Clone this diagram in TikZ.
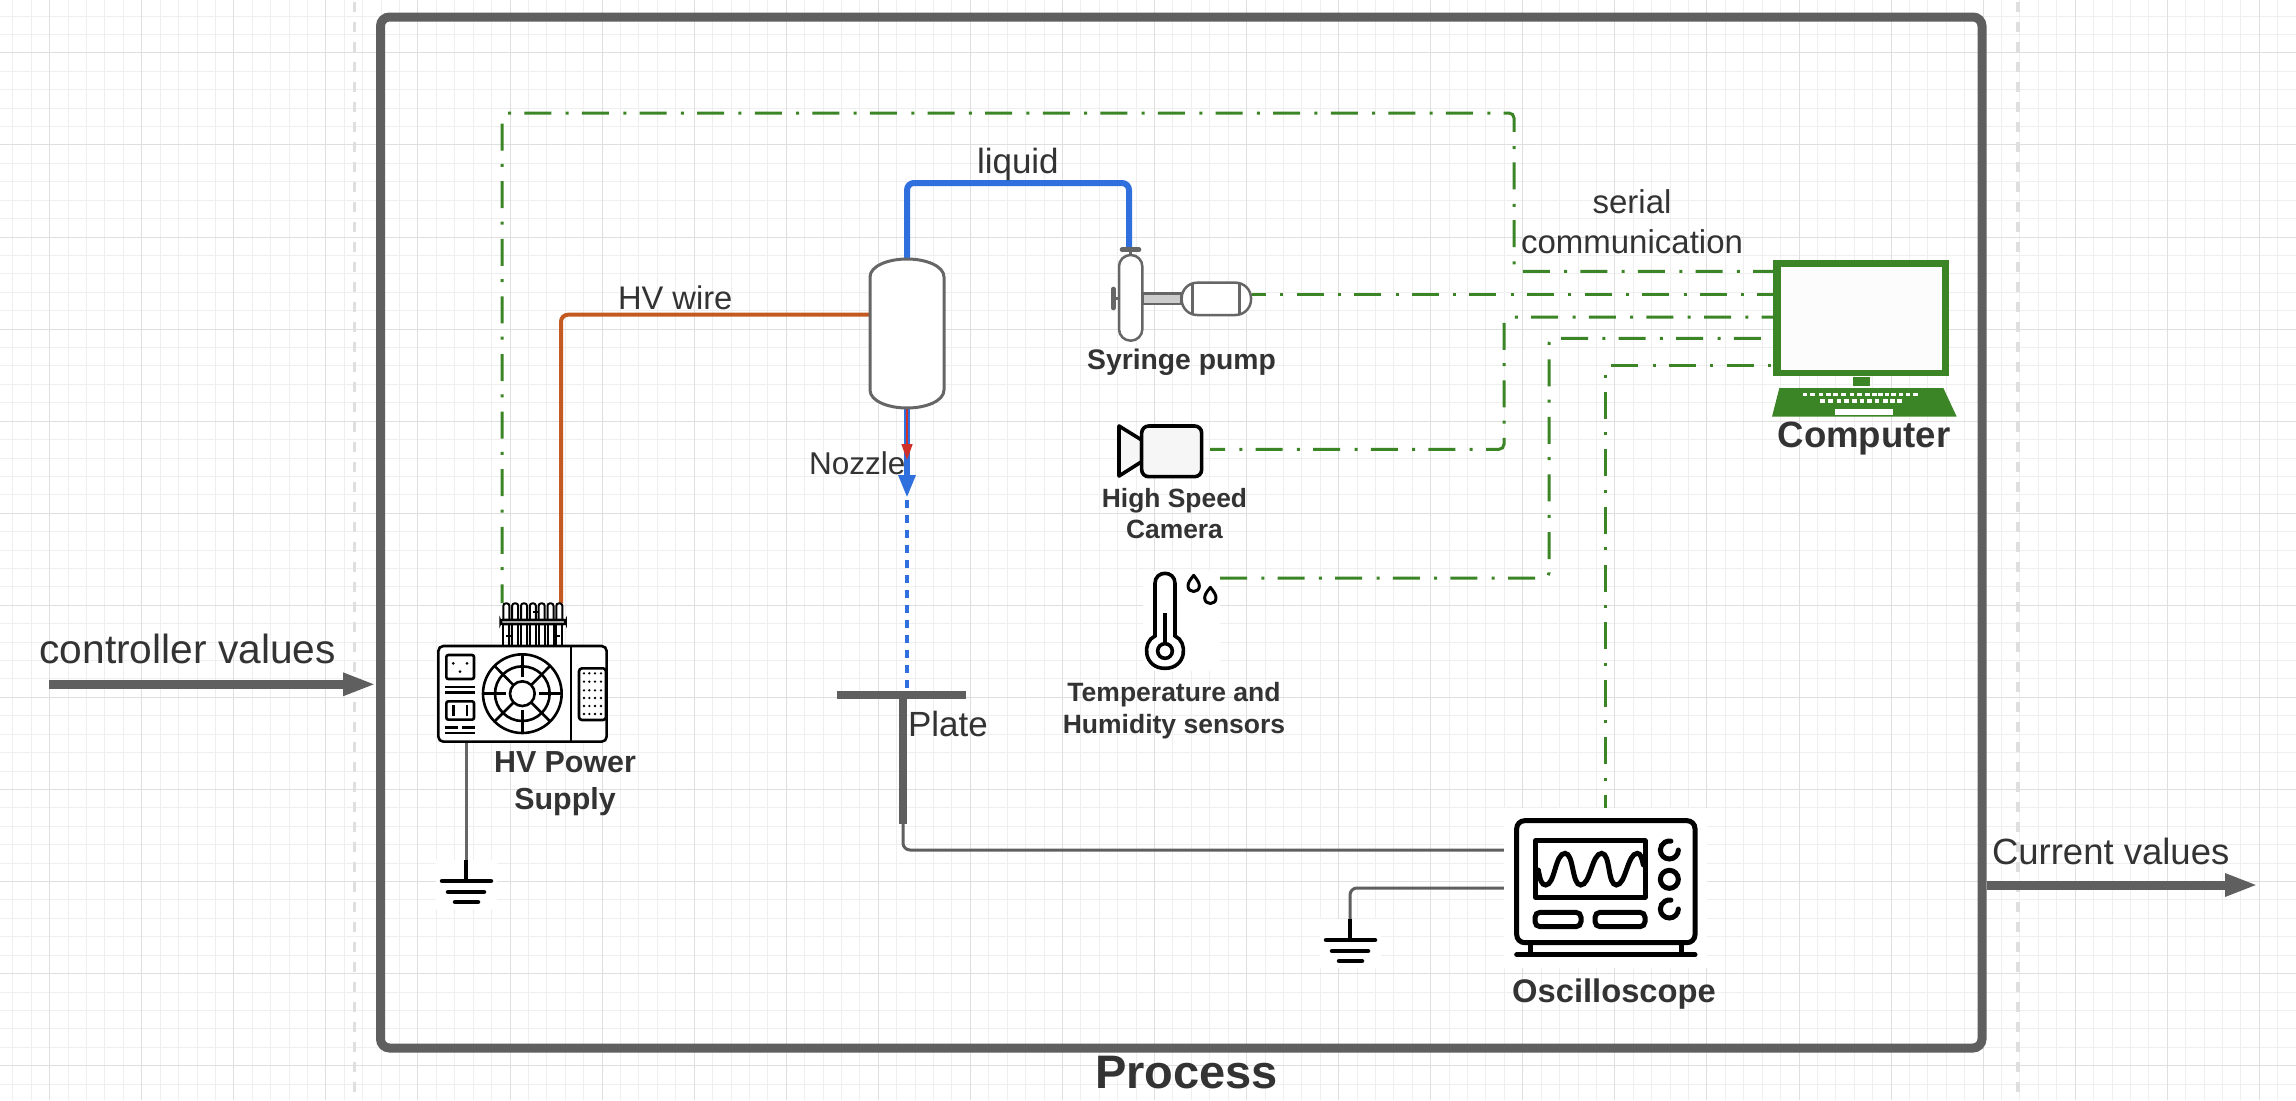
\documentclass[tikz,border=0pt]{standalone}
\usepackage{fontspec}
\setmainfont{Liberation Sans}
\usetikzlibrary{arrows.meta}
\definecolor{gridmaj}{HTML}{DFDFDF}
\definecolor{gridmin}{HTML}{EFEFEF}
\definecolor{framegrey}{HTML}{5F5F5F}
\definecolor{outl}{HTML}{666666}
\definecolor{ctrlgreen}{HTML}{3C8527}
\definecolor{liqblue}{HTML}{2F6FDE}
\definecolor{hvorange}{HTML}{C25A21}
\definecolor{arrred}{HTML}{D0302A}
\definecolor{txtc}{HTML}{333333}
\definecolor{iconbg}{HTML}{F6F6F6}
\tikzset{
  iconbox/.style={rectangle,inner sep=0pt,outer sep=0pt,draw=none},
  ctrlline/.style={draw=ctrlgreen,line width=3pt,rounded corners=5pt,dash pattern=on 27pt off 14.3pt on 3pt off 13.3pt},
  wireline/.style={draw=framegrey,line width=3pt,rounded corners=7pt},
  fatarrow/.style={draw=framegrey,line width=9pt,-{Triangle[length=33pt,width=21pt,fill=framegrey]}},
  lab/.style={inner sep=0pt,outer sep=0pt,anchor=base,text=txtc,align=center},
  labw/.style={lab,anchor=base west},
  icn/.style={draw=black,line width=2.6pt},
  combl/.style={draw=black,line width=2pt},
  osc/.style={draw=black,line width=5pt},
}
\newcommand{\gndicon}[2]{%
  \begin{scope}[shift={(#1,#2)}]
    \fill[white] (-30,0) rectangle (31,49);
    \draw[black,line width=4.8pt] (0,0) -- (0,21);
    \draw[black,line width=4.5pt,line cap=round] (-24,21) -- (25,21);
    \draw[black,line width=4.5pt,line cap=round] (-18,32) -- (18,32);
    \draw[black,line width=4.5pt,line cap=round] (-11,42) -- (12,42);
  \end{scope}}
\begin{document}
\begin{tikzpicture}[x=1pt,y=-1pt]
\useasboundingbox (0,0) rectangle (2296,1100);
\fill[white] (0,0) rectangle (2296,1100);
% grid
\foreach \k in {-2,...,122}{
  \pgfmathsetmacro{\gx}{floor(49.7+18.414*\k)+0.5}
  \draw[gridmin,line width=1pt] (\gx,0) -- (\gx,1100);
}
\foreach \k in {-2,...,56}{
  \pgfmathsetmacro{\gy}{floor(52.9+18.414*\k)+0.5}
  \draw[gridmin,line width=1pt] (0,\gy) -- (2296,\gy);
}
\foreach \k in {0,...,24}{
  \pgfmathsetmacro{\gx}{floor(49.7+18.414*5*\k)+0.5}
  \draw[gridmaj,line width=1pt] (\gx,0) -- (\gx,1100);
}
\foreach \k in {0,...,11}{
  \pgfmathsetmacro{\gy}{floor(52.9+18.414*5*\k)+0.5}
  \draw[gridmaj,line width=1pt] (0,\gy) -- (2296,\gy);
}
% swimlane dashes
\draw[gridmaj,line width=3.5pt,dash pattern=on 10pt off 10pt] (354.5,2) -- (354.5,1100);
\draw[gridmaj,line width=3.5pt,dash pattern=on 10pt off 10pt] (2018,2) -- (2018,1100);

% anchors (invisible extents of the icons)
\node[iconbox,minimum width=1601.5pt,minimum height=1031pt,draw=framegrey,line width=9pt,rounded corners=9pt,outer sep=4.5pt] (process) at (1181.25,532.5) {};
\node[iconbox,minimum width=169pt,minimum height=139pt] (hv) at (522.5,672.5) {};
\node[iconbox,minimum width=74pt,minimum height=149pt] (nozzle) at (907,333.5) {};
\node[iconbox,minimum width=141pt,minimum height=100pt] (pump) at (1181.5,290) {};
\node[iconbox,minimum width=87pt,minimum height=55pt] (camera) at (1166.5,449.3) {};
\node[iconbox,minimum width=77pt,minimum height=100pt] (sensor) at (1181.5,578) {};
\node[iconbox,minimum width=186pt,minimum height=157pt] (computer) at (1866,340) {};
\node[iconbox,minimum width=203pt,minimum height=160pt] (scope) at (1605.5,888) {};
\node[iconbox,minimum width=129pt,minimum height=8pt,fill=framegrey] (plate) at (901.5,695) {};

\coordinate (cvin) at (49,684.3);
\coordinate (cuout) at (2258,885);
\coordinate (ca1) at (502,113);
\coordinate (ca2) at (1514,113);
\coordinate (ca3) at (1514,271.3);
\coordinate (cb) at (1239,294.3);
\coordinate (cc1) at (1504,449.3);
\coordinate (cc2) at (1504,317);
\coordinate (cd1) at (1549,578);
\coordinate (cd2) at (1549,338.3);
\coordinate (ce1) at (1605,365.3);
\coordinate (hvw) at (561,314.7);
\coordinate (liq1) at (907,183);
\coordinate (liq2) at (1129,183);
\coordinate (liq3) at (1129,248);
\coordinate (redtip) at (907,460);
\coordinate (bluetip) at (907,498);
\coordinate (platefoot) at (903,824);
\coordinate (plateturn) at (903,850);
\coordinate (g1) at (466,860);
\coordinate (g2) at (1350,919);
\coordinate (g2turn) at (1350,888);

% process arrows
\draw[fatarrow] (cvin) -- (process.west |- cvin);
\draw[fatarrow] (process.east |- cuout) -- (cuout);

% control lines
\draw[ctrlline,dash phase=8.4pt] (hv.north -| ca1) -- (ca1) -- (ca2) -- (ca3) -- (computer.west |- ca3);
\draw[ctrlline,dash phase=13pt] (pump.east |- cb) -- (computer.west |- cb);
\draw[ctrlline,dash phase=12pt] (camera.east) -- (cc1) -- (cc2) -- (computer.west |- cc2);
\draw[ctrlline] (sensor.east |- cd1) -- (cd1) -- (cd2) -- (computer.west |- cd2);
\draw[ctrlline,dash phase=14pt] (scope.north -| ce1) -- (ce1) -- (computer.west |- ce1);

% process lines
\draw[hvorange,line width=4pt,rounded corners=7pt] (nozzle.west |- hvw) -- (hvw) -- (hv.north -| hvw);
\draw[liqblue,line width=6pt,rounded corners=7pt] (nozzle.north) -- (liq1) -- (liq2) -- (liq3);
\draw[liqblue,line width=6pt,-{Triangle[length=23pt,width=16pt]}] (nozzle.south) -- (bluetip);
\draw[arrred,line width=1.6pt,-{Triangle[length=16pt,width=11pt]}] (nozzle.south) -- (redtip);
\draw[liqblue,line width=4pt,dash pattern=on 8pt off 7pt] (bluetip) ++(0,2) -- (plate.north -| bluetip);
\draw[framegrey,line width=8pt] (plate.south -| platefoot) -- (platefoot);
\draw[wireline] (platefoot) -- (plateturn) -- (scope.west |- plateturn);
\draw[wireline] (scope.west |- g2turn) -- (g2turn) -- (g2);
\draw[draw=outl,line width=3pt] (hv.south -| g1) -- (g1);

% nozzle
\draw[outl,line width=3pt,fill=white] (870,277) .. controls (870,266) and (888,259) .. (907,259) .. controls (926,259) and (944,266) .. (944,277) -- (944,390) .. controls (944,401) and (926,408) .. (907,408) .. controls (888,408) and (870,401) .. (870,390) -- cycle;

% grounds
\gndicon{466}{860}
\gndicon{1350}{919}

% HV power supply
\begin{scope}[shift={(400,560)},x=0.33333pt,y=-0.33333pt]
  \draw[icn,rounded corners=5pt,fill=white] (115,258) rectangle (620,545);
  \draw[icn] (513,258) -- (513,545);
  \draw[icn,rounded corners=3pt] (537,325) rectangle (618,480);
  \foreach \dx in {552,568,585,603} \foreach \dy in {340,365,391,414,438,462}
    \fill[black] (\dx,\dy) circle[radius=3.8];
  \draw[icn,rounded corners=2pt] (139,285) rectangle (222,357);
  \fill[black] (160,310) circle[radius=4.5] (201,310) circle[radius=4.5] (180,335) circle[radius=4.5];
  \draw[icn] (135,381) -- (225,381) (135,397) -- (225,397);
  \draw[icn,rounded corners=2pt] (139,424) rectangle (222,479);
  \draw[icn] (160,435) -- (160,468) (201,435) -- (201,468);
  \draw[icn] (135,503) -- (175,503) (187,503) -- (225,503) (135,519) -- (225,519);
  \draw[icn] (367,401) circle[radius=118] (367,401) circle[radius=82] (367,401) circle[radius=37];
  \draw[icn] (367,283) -- (367,350) (367,450) -- (367,517) (249,401) -- (318,401) (416,401) -- (487,401);
  \draw[icn] (284,318) -- (340,375) (450,318) -- (394,375) (284,484) -- (340,428) (450,484) -- (394,428);
  % connector comb
  \foreach \ax in {0,...,6}{
    \pgfmathsetmacro{\xa}{310+26.5*\ax}
    \draw[combl,rounded corners=2.5pt,fill=white] (\xa,178) -- (\xa,130) -- ({\xa+18},130) -- ({\xa+18},178);
    \draw[combl] (\xa,195) -- (\xa,258) ({\xa+18},195) -- ({\xa+18},258);
  }
  \draw[combl] (398,157) -- (416,157) (318,228) -- (332,228) (463,228) -- (480,228);
  \draw[icn,rounded corners=2pt,fill=white] (302,180) rectangle (497,192);
\end{scope}

% syringe pump
\begin{scope}[shift={(1050,220)},x=0.33333pt,y=-0.33333pt]
  \draw[outl,line width=2.5pt,fill=white,rounded corners=11.5pt] (207,105) rectangle (277,362);
  \draw[outl,line width=4.6pt,line cap=round] (216,89) -- (267,89);
  \draw[outl,line width=2.5pt] (241,89) -- (241,105);
  \draw[outl,line width=4.6pt,line cap=round] (190,207) -- (190,264);
  \draw[outl,line width=2.5pt] (190,235) -- (207,235);
  \draw[outl,line width=2.5pt,fill=black!20] (277,220) rectangle (395,252);
  \draw[outl,line width=2.5pt,fill=white,rounded corners=15.5pt] (395,188) rectangle (603,285);
  \draw[outl,line width=2.5pt] (428,188) -- (428,285) (568,188) -- (568,285);
\end{scope}

% camera
\begin{scope}[shift={(1050,220)},x=0.33333pt,y=-0.33333pt]
  \draw[black,line width=3.6pt,fill=iconbg,line join=round] (207,618) -- (275,660) -- (275,725) -- (207,768) -- cycle;
  \draw[black,line width=3.6pt,fill=iconbg,rounded corners=7pt] (275,618) rectangle (455,770);
\end{scope}

% thermometer
\begin{scope}[shift={(1040,400)},x=0.33333pt,y=-0.33333pt]
  \fill[white] (310,512) rectangle (540,812);
  \draw[black,line width=3.6pt] (345,708) -- (345,550) .. controls (345,510) and (405,510) .. (405,550) -- (405,708) .. controls (445,725) and (440,805) .. (375,805) .. controls (310,805) and (305,725) .. (345,708) -- cycle;
  \draw[black,line width=3.6pt] (375,753) circle[radius=22];
  \draw[black,line width=3.6pt] (375,640) -- (375,730);
  \draw[black,line width=3pt,line join=round] (461,526) .. controls (450,540) and (444,548) .. (444,558) .. controls (444,580) and (478,580) .. (478,558) .. controls (478,548) and (472,540) .. (461,526) -- cycle;
  \draw[black,line width=3pt,line join=round] (511,562) .. controls (500,576) and (494,584) .. (494,594) .. controls (494,616) and (528,616) .. (528,594) .. controls (528,584) and (522,576) .. (511,562) -- cycle;
\end{scope}

% computer
\begin{scope}[shift={(1740,240)},x=0.33333pt,y=-0.33333pt]
  \fill[ctrlgreen] (100,60) rectangle (627,407);
  \fill[white!98!ctrlgreen] (122,80) rectangle (607,390);
  \fill[ctrlgreen] (340,411) rectangle (391,438);
  \fill[ctrlgreen] (118,444) -- (610,444) -- (650,530) -- (96,530) -- cycle;
  \foreach \kx/\kw in {189/12,210/15,236/13,258/14,280/14,304/14,329/12,352/13,376/14,396/14,414/15,434/14,453/15,477/13,497/13,520/14}
    \fill[white] (\kx,458) rectangle ({\kx+\kw},469);
  \foreach \kx/\kw in {240/14,265/15,290/13,312/14,336/15,360/13,381/15,404/14,429/15,451/13,472/14}
    \fill[white] (\kx,477) rectangle ({\kx+\kw},489);
  \fill[white] (285,507) rectangle (459,525);
\end{scope}

% oscilloscope
\begin{scope}[shift={(1480,790)},x=0.33333pt,y=-0.33333pt]
  \fill[white] (72,55) rectangle (680,535);
  \draw[osc,rounded corners=8pt] (110,92) rectangle (645,458);
  \draw[osc,line join=round] (167,152) rectangle (495,322);
  \draw[osc,line cap=round] (175,240) .. controls (180,270) and (185,285) .. (197,285) .. controls (225,285) and (225,190) .. (255,190) .. controls (282,190) and (275,285) .. (302,285) .. controls (332,285) and (335,190) .. (365,190) .. controls (392,190) and (382,285) .. (409,285) .. controls (438,285) and (442,190) .. (472,190) .. controls (482,190) and (486,205) .. (490,225);
  \draw[osc,rounded corners=5pt] (165,367) rectangle (303,410);
  \draw[osc,rounded corners=5pt] (345,367) rectangle (495,410);
  \draw[osc] (568,268) circle[radius=27];
  \draw[osc,line cap=round] (595,180) arc[start angle=0,end angle=280,radius=27];
  \draw[osc,line cap=round] (595,357) arc[start angle=0,end angle=280,radius=27];
  \draw[osc] (150,458) -- (150,492) (603,458) -- (603,492);
  \draw[osc,line cap=round] (110,494) -- (645,494);
\end{scope}

% labels
\node[labw,font=\fontsize{40.7}{46}\selectfont] (tcontroller) at (39.5,663) {controller values};
\node[labw,font=\fontsize{36.5}{42}\selectfont] (tcurrent) at (1992,864) {Current values};
\node[labw,font=\fontsize{35}{40}\selectfont] (tliquid) at (977,173) {liquid};
\node[labw,font=\fontsize{32.7}{38}\selectfont] (thv) at (618,309) {HV wire};
\node[labw,font=\fontsize{31.5}{38}\selectfont] (tnozzle) at (809,474) {Nozzle};
\node[labw,font=\fontsize{35}{38}\selectfont] (tplate) at (908,736) {Plate};
\node[lab,font=\fontsize{33}{39.5}\selectfont] (tserial) at (1632,253) {serial\\communication};
\node[lab,font=\bfseries\fontsize{28.3}{34}\selectfont] (tpump) at (1181.5,369) {Syringe pump};
\node[lab,font=\bfseries\fontsize{26.4}{31}\selectfont] (tcamera) at (1174.5,538) {High Speed\\Camera};
\node[lab,font=\bfseries\fontsize{26.5}{32}\selectfont] (tsensor) at (1174,733) {Temperature and\\Humidity sensors};
\node[lab,font=\bfseries\fontsize{30.4}{37}\selectfont] (thvps) at (565,809) {HV Power\\Supply};
\node[lab,font=\bfseries\fontsize{36.6}{42}\selectfont] (tcomputer) at (1864,447) {Computer};
\node[lab,font=\bfseries\fontsize{32.7}{38}\selectfont] (tscope) at (1614,1002) {Oscilloscope};
\node[lab,font=\bfseries\fontsize{47}{54}\selectfont] (tprocess) at (1186.5,1088) {Process};
\end{tikzpicture}
\end{document}
